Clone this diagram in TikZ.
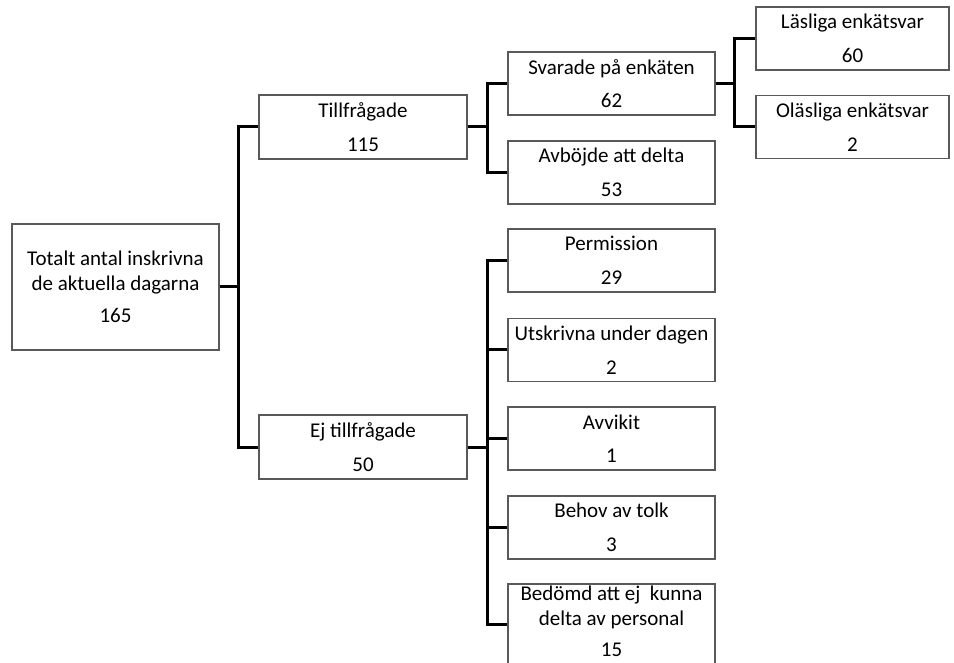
\documentclass[tikz,border=0pt]{standalone}
\usepackage{fontspec}
\setmainfont{Carlito}
\definecolor{boxline}{HTML}{595959}
\tikzset{
  box/.style={draw=boxline, line width=1.1pt, rectangle, align=center, inner sep=0pt,
    font=\fontsize{21}{24.5}\selectfont, minimum width=207pt, minimum height=63pt},
  link/.style={draw=black, line width=3pt, line join=miter}
}
\begin{document}
\begin{tikzpicture}[x=1pt,y=-1pt]
\useasboundingbox (0,0) rectangle (954,663);
% nodes
\node[box, minimum height=126pt] (root) at (115.5,287) {Totalt antal inskrivna\\de aktuella dagarna\\[8pt]165};
\node[box, minimum width=208pt, minimum height=64pt] (t) at (363,127) {Tillfrågade\\[9pt]115};
\node[box, minimum width=208pt, minimum height=64pt] (e) at (363,447) {Ej tillfrågade\\[9pt]50};
\node[box] (s) at (611.5,83.5) {Svarade på enkäten\\[9pt]62};
\node[box] (a) at (611.5,172.5) {Avböjde att delta\\[9pt]53};
\node[box, minimum width=193pt] (l) at (852.5,38.5) {Läsliga enkätsvar\\[9pt]60};
\node[box, minimum width=193pt] (o) at (852.5,127) {Oläsliga enkätsvar\\[9pt]2};
\node[box] (p) at (611.5,260.5) {Permission\\[9pt]29};
\node[box] (u) at (611.5,350) {Utskrivna under dagen\\[9pt]2};
\node[box] (av) at (611.5,438.5) {Avvikit\\[9pt]1};
\node[box] (b) at (611.5,527.5) {Behov av tolk\\[9pt]3};
\node[box, minimum height=81pt] (bd) at (611.5,624.5) {Bedömd att ej~ kunna\\delta av personal\\[7pt]15\rule[-6pt]{0pt}{6pt}};
% junctions
\coordinate (j1) at (238.5,287);
\coordinate (j2) at (487,127);
\coordinate (j3) at (734.5,83.5);
\coordinate (j4) at (487,447);
% connectors
\draw[link] (root.east) -- (j1);
\draw[link] (j1) |- (t.west);
\draw[link] (j1) |- (e.west);
\draw[link] (t.east) -- (j2);
\draw[link] (j2) |- (s.west);
\draw[link] (j2) |- (a.west);
\draw[link] (s.east) -- (j3);
\draw[link] (j3) |- (l.west);
\draw[link] (j3) |- (o.west);
\draw[link] (e.east) -- (j4);
\draw[link] (j4) |- (p.west);
\draw[link] (j4) |- (u.west);
\draw[link] (j4) |- (av.west);
\draw[link] (j4) |- (b.west);
\draw[link] (j4) |- (bd.west);
\end{tikzpicture}
\end{document}
